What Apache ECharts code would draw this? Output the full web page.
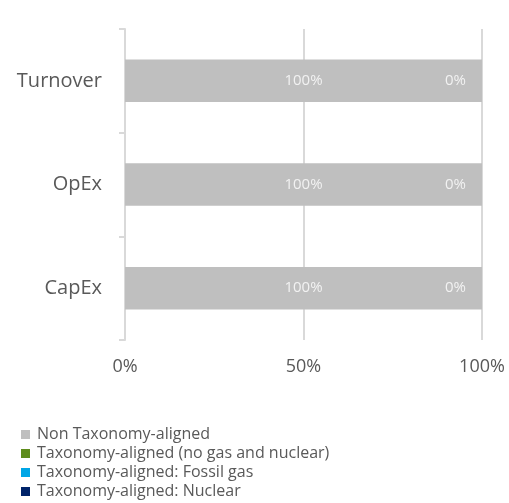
<!DOCTYPE html>
<html><head><meta charset="utf-8">
<script src="https://cdn.jsdelivr.net/npm/echarts@6/dist/echarts.min.js"></script>
<style>html,body{margin:0;padding:0;background:#fff}#c{width:509px;height:503px}</style>
</head><body><div id="c"></div>
<script>
const categories = ['Turnover', 'OpEx', 'CapEx'];
const nonAligned = [100, 100, 100];
const alignedNoGasNuclear = [0, 0, 0];
const alignedFossilGas = [0, 0, 0];
const alignedNuclear = [0, 0, 0];
const xTicks = [0, 50, 100];

const font = 'Open Sans';
const chart = echarts.init(document.getElementById('c'), null, {renderer: 'canvas'});
const lbl = {show: true, color: '#f2f2f2', fontSize: 15, fontFamily: font, formatter: p => p.value + '%'};
chart.setOption({
  animation: false,
  grid: {left: 125, right: 27, top: 29, bottom: 163, containLabel: false},
  xAxis: {
    type: 'value', min: xTicks[0], max: xTicks[xTicks.length - 1], interval: 50,
    axisLine: {show: false}, axisTick: {show: false},
    splitLine: {show: true, lineStyle: {color: '#d9d9d9', width: 2}},
    axisLabel: {formatter: v => v + '%', color: '#595959', fontSize: 18, fontFamily: font, margin: 18}
  },
  yAxis: {
    type: 'category', data: categories, inverse: true,
    axisLine: {show: true, lineStyle: {color: '#d9d9d9', width: 2}},
    axisTick: {show: true, length: 6, lineStyle: {color: '#d9d9d9', width: 2}},
    axisLabel: {color: '#595959', fontSize: 20, fontFamily: font, margin: 23}
  },
  legend: {
    orient: 'vertical', left: 16, top: 420, height: 83, itemWidth: 9, itemHeight: 9, itemGap: 0, icon: 'rect',
    textStyle: {color: '#595959', fontSize: 16, lineHeight: 19, fontFamily: font, padding: [0, 0, 0, 2]},
    data: ['Non Taxonomy-aligned', 'Taxonomy-aligned (no gas and nuclear)', 'Taxonomy-aligned: Fossil gas', 'Taxonomy-aligned: Nuclear']
  },
  series: [
    {name: 'Non Taxonomy-aligned', type: 'bar', stack: 's', data: nonAligned, barWidth: '41%',
      itemStyle: {color: '#bfbfbf'}, label: Object.assign({position: 'inside'}, lbl)},
    {name: 'Taxonomy-aligned (no gas and nuclear)', type: 'bar', stack: 's', data: alignedNoGasNuclear,
      itemStyle: {color: '#5e8c1c'}, label: Object.assign({position: 'left', distance: 16}, lbl)},
    {name: 'Taxonomy-aligned: Fossil gas', type: 'bar', stack: 's', data: alignedFossilGas,
      itemStyle: {color: '#00a6e6'}},
    {name: 'Taxonomy-aligned: Nuclear', type: 'bar', stack: 's', data: alignedNuclear,
      itemStyle: {color: '#002369'}}
  ]
});
</script></body></html>
